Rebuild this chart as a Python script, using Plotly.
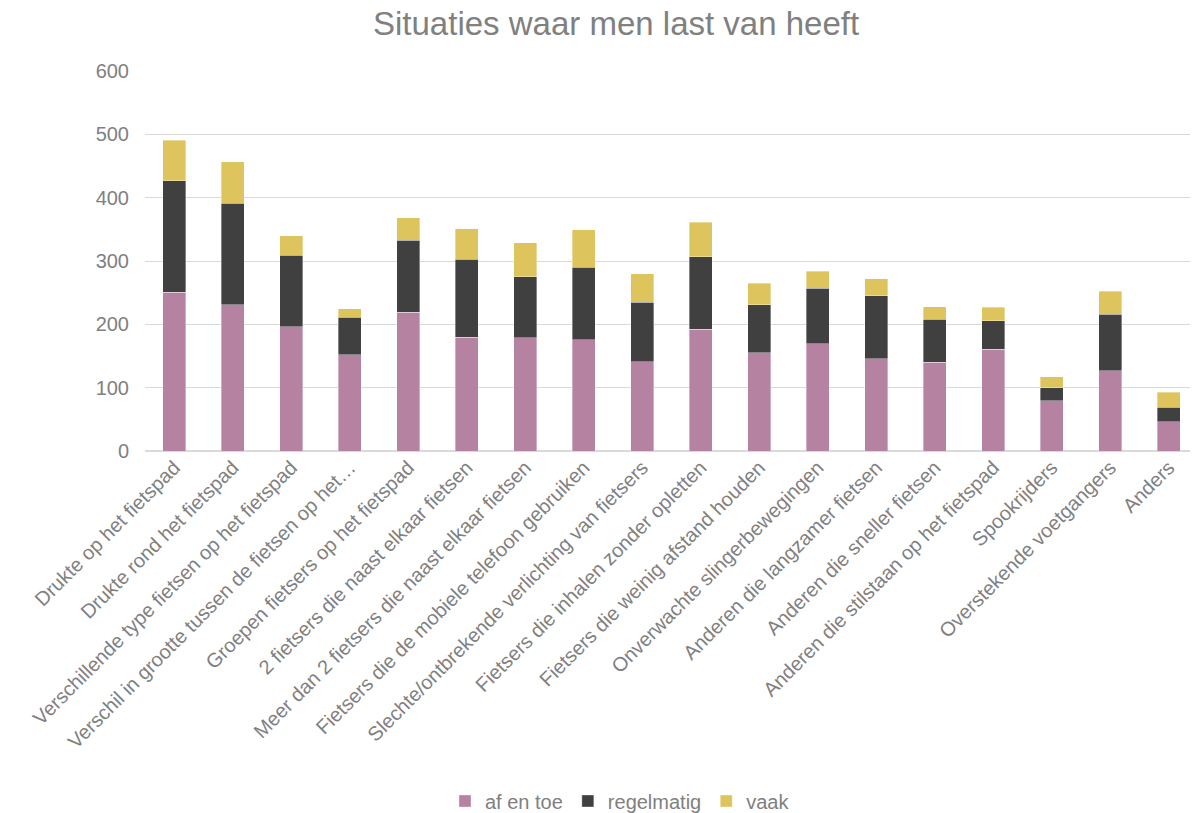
import plotly.graph_objects as go

categories = [
    "Drukte op het fietspad",
    "Drukte rond het fietspad",
    "Verschillende type fietsen op het fietspad",
    "Verschil in grootte tussen de fietsen op het…",
    "Groepen fietsers op het fietspad",
    "2 fietsers die naast elkaar fietsen",
    "Meer dan 2 fietsers die naast elkaar fietsen",
    "Fietsers die de mobiele telefoon gebruiken",
    "Slechte/ontbrekende verlichting van fietsers",
    "Fietsers die inhalen zonder opletten",
    "Fietsers die weinig afstand houden",
    "Onverwachte slingerbewegingen",
    "Anderen die langzamer fietsen",
    "Anderen die sneller fietsen",
    "Anderen die stilstaan op het fietspad",
    "Spookrijders",
    "Overstekende voetgangers",
    "Anders",
]

af_en_toe = [251, 231, 196, 152, 219, 180, 179, 176, 141, 192, 155, 169, 146, 140, 161, 79, 127, 46]
regelmatig = [176, 160, 113, 59, 114, 123, 96, 114, 94, 115, 76, 88, 99, 68, 45, 21, 89, 23]
vaak = [64, 66, 31, 14, 35, 48, 54, 59, 45, 54, 34, 27, 27, 20, 21, 17, 36, 24]

series = [
    ("af en toe", af_en_toe, "rgb(181,130,161)"),
    ("regelmatig", regelmatig, "rgb(64,64,64)"),
    ("vaak", vaak, "rgb(222,196,92)"),
]

text_color = "rgb(128,128,128)"
font_family = "Liberation Sans, Arial, sans-serif"

# page has ~8px body margin, so the figure is a bit smaller than the window
W, H = 1190, 805

fig = go.Figure()
for name, values, color in series:
    fig.add_trace(go.Bar(
        x=categories, y=values, name=name,
        marker=dict(color=color, line=dict(color="rgba(255,255,255,0.6)", width=0.6)),
    ))

fig.update_layout(
    barmode="stack",
    bargap=0.6,
    width=W, height=H,
    autosize=False,
    plot_bgcolor="white",
    paper_bgcolor="white",
    font=dict(family=font_family, color=text_color, size=20),
    margin=dict(l=137, r=0, t=63, b=362, autoexpand=False),
    xaxis=dict(
        tickangle=-45,
        tickfont=dict(size=20, color=text_color),
        showgrid=False,
        showline=False,
        ticks="",
    ),
    yaxis=dict(
        range=[0, 600],
        dtick=100,
        tickfont=dict(size=20, color=text_color),
        gridcolor="rgb(217,217,217)",
        gridwidth=1,
        zeroline=True,
        zerolinecolor="rgb(217,217,217)",
        zerolinewidth=1.5,
        showline=False,
        ticklabelstandoff=15,
    ),
    legend=dict(
        orientation="h",
        xref="container",
        x=612 / W, xanchor="center",
        y=-(793 - 443) / 380, yanchor="middle",
        font=dict(size=20, color=text_color),
        traceorder="normal",
        itemwidth=30,
    ),
)

# title as a plain annotation, anchored by its top edge
fig.add_annotation(
    xref="paper", yref="paper",
    x=(608 - 137) / (W - 137), y=1 + 68 / 380,
    xanchor="center", yanchor="top",
    text="Situaties waar men last van heeft",
    font=dict(size=33, color=text_color, family=font_family),
    showarrow=False,
)

fig.write_html("out.html")
